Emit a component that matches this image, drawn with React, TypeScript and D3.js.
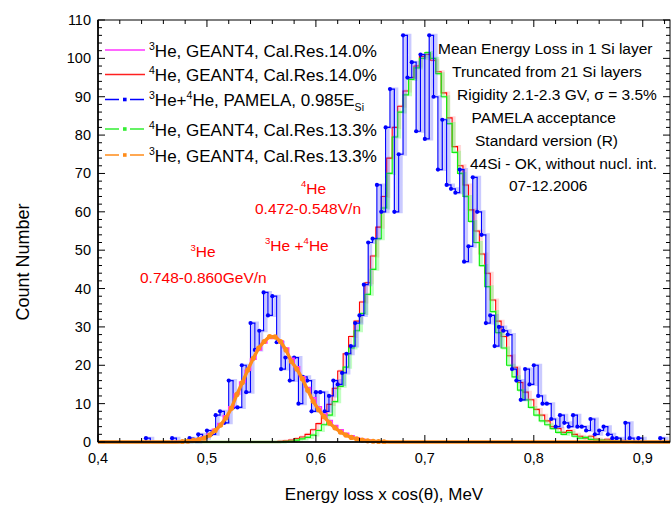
import React, { useEffect, useRef } from "react";
import * as d3 from "d3";

// ---------- axes ----------
const X_MIN = 0.4;
const X_MAX = 0.925;
const Y_MIN = 0;
const Y_MAX = 110;
const xMajorTicks = [0.4, 0.5, 0.6, 0.7, 0.8, 0.9];
const xTickLabels = ["0,4", "0,5", "0,6", "0,7", "0,8", "0,9"];
const yMajorTicks = [0, 10, 20, 30, 40, 50, 60, 70, 80, 90, 100, 110];
const xTitle = "Energy loss x cos(\u03b8), MeV";
const yTitle = "Count Number";

// ---------- series (histograms: start edge, bin width, counts) ----------
const he3Res140Start = 0.47;
const he3Res140Bin = 0.005;
const he3Res140 = [0.1, 0.2, 0.3, 0.5, 0.8, 1.3, 2.1, 3.3, 4.8, 6.8, 9.2, 12.5, 15.6, 18.7, 21.6, 24.0, 25.8, 27.0, 27.2, 26.3, 24.5, 21.8, 19.6, 17.0, 14.2, 11.5, 9.2, 7.3, 5.6, 4.3, 3.2, 2.3, 1.6, 1.1, 0.7, 0.5, 0.3, 0.2, 0.1];

const he4Res140Start = 0.565;
const he4Res140Bin = 0.005;
const he4Res140 = [0.2, 0.3, 0.5, 0.9, 1.3, 2.0, 3.2, 4.8, 7.0, 9.8, 14.0, 18.5, 23.0, 27.5, 31.5, 36.5, 41.5, 48.5, 56.0, 64.0, 74.0, 82.0, 87.5, 91.5, 95.0, 98.0, 100.5, 101.0, 99.5, 96.5, 91.0, 84.5, 77.0, 72.0, 67.0, 60.5, 55.0, 49.0, 44.0, 37.0, 31.5, 27.5, 22.5, 19.5, 15.5, 13.0, 11.0, 8.5, 7.0, 5.5, 4.0, 3.5, 2.5, 3.0, 2.0, 1.5, 1.0, 1.5, 0.8, 0.5, 0.7, 0.3, 0.2, 0.3, 0.1, 0.1, 0.05];

const pamelaStart = 0.44;
const pamelaBin = 0.004;
const pamela = [
  0, 1, 0, 0, 0, 0, 0, 1, 0, 0,
  0, 1, 0, 2, 1, 3, 2, 7, 8, 5,
  16, 9, 9, 20, 13, 31, 24, 29, 39, 33,
  38, 26, 19, 22, 16, 22, 10, 17, 16, 8,
  13, 13, 8, 12, 16, 15, 18, 23, 25, 31,
  33, 41, 52, 53, 67, 60, 82, 92, 60, 75,
  106, 95, 99, 81, 101, 79, 106, 90, 71, 84,
  67, 66, 65, 71, 47, 51, 69, 60, 54, 31,
  33, 25, 30, 29, 28, 19, 16, 11, 19, 15,
  20, 12, 10, 10, 6, 4, 7, 5, 4, 7,
  4, 4, 3, 6, 2, 3, 4, 2, 1, 1,
  0, 5, 1, 0, 1, 0, 0, 0, 0, 1, 0,
];

const he4Res133Start = 0.57;
const he4Res133Bin = 0.005;
const he4Res133 = [0.1, 0.2, 0.5, 0.8, 1.2, 1.8, 3.0, 4.5, 7.0, 10.5, 14.5, 19.5, 24.5, 29.0, 33.5, 38.5, 45.0, 53.0, 61.0, 70.0, 79.5, 86.0, 90.5, 94.5, 97.5, 100.0, 101.5, 100.0, 96.0, 90.0, 83.0, 75.5, 70.0, 64.0, 57.5, 52.0, 46.0, 40.5, 34.0, 28.5, 24.5, 20.0, 17.0, 13.5, 11.0, 9.0, 7.0, 5.5, 4.5, 3.5, 2.5, 2.0, 2.5, 1.5, 1.0, 1.2, 0.7, 0.5, 0.4, 0.3, 0.2, 0.2, 0.1, 0.1];

const he3Res133Start = 0.475;
const he3Res133Bin = 0.005;
const he3Res133 = [0.1, 0.2, 0.4, 0.6, 1.0, 1.8, 3.0, 4.4, 6.3, 8.8, 12.4, 15.5, 18.8, 21.8, 24.5, 26.2, 27.5, 27.4, 26.2, 24.0, 21.0, 19.0, 16.5, 13.5, 10.6, 8.4, 6.6, 4.9, 3.7, 2.6, 1.8, 1.2, 0.8, 0.5, 0.3, 0.2, 0.1, 0.05];

// ---------- legend ----------
type Seg = { t: string; k: "n" | "sup" | "sub" };
const legendLabels: Seg[][] = [
  [{ t: "3", k: "sup" }, { t: "He, GEANT4, Cal.Res.14.0%", k: "n" }],
  [{ t: "4", k: "sup" }, { t: "He, GEANT4, Cal.Res.14.0%", k: "n" }],
  [{ t: "3", k: "sup" }, { t: "He+", k: "n" }, { t: "4", k: "sup" }, { t: "He, PAMELA, 0.985E", k: "n" }, { t: "Si", k: "sub" }],
  [{ t: "4", k: "sup" }, { t: "He, GEANT4, Cal.Res.13.3%", k: "n" }],
  [{ t: "3", k: "sup" }, { t: "He, GEANT4, Cal.Res.13.3%", k: "n" }],
];

const infoLines = [
  "Mean Energy Loss in 1 Si layer",
  "Truncated from 21 Si layers",
  "Rigidity 2.1-2.3 GV, \u03c3 = 3.5%",
  "PAMELA acceptance",
  "Standard version (R)",
  "44Si - OK, without nucl. int.",
  "07-12.2006",
];

const annotations: Seg[][] = [
  [{ t: "4", k: "sup" }, { t: "He", k: "n" }],
  [{ t: "0.472-0.548V/n", k: "n" }],
  [{ t: "3", k: "sup" }, { t: "He +", k: "n" }, { t: "4", k: "sup" }, { t: "He", k: "n" }],
  [{ t: "3", k: "sup" }, { t: "He", k: "n" }],
  [{ t: "0.748-0.860GeV/n", k: "n" }],
];

const FONT = "'Liberation Sans', Arial, Helvetica, sans-serif";

export default function App() {
  const ref = useRef<SVGSVGElement>(null);

  useEffect(() => {
    const svg = d3.select(ref.current);
    svg.selectAll("*").remove();

    const L = 98, R = 670, T = 20, B = 442;
    const x = d3.scaleLinear().domain([X_MIN, X_MAX]).range([L, R]);
    const y = d3.scaleLinear().domain([Y_MIN, Y_MAX]).range([B, T]);

    svg.append("rect").attr("width", 671).attr("height", 505).attr("fill", "#fff");

    const defs = svg.append("defs");
    defs.append("clipPath").attr("id", "plotclip")
      .append("rect").attr("x", L).attr("y", T - 2).attr("width", R - L).attr("height", B - T + 4);

    const stepPts = (start: number, bin: number, vals: number[]): [number, number][] => {
      const pts: [number, number][] = [[X_MIN, 0]];
      vals.forEach((v, i) => pts.push([start + i * bin, v]));
      pts.push([start + vals.length * bin, 0]);
      pts.push([X_MAX, 0]);
      return pts;
    };
    const line = d3.line<[number, number]>()
      .x(d => x(d[0]))
      .y(d => y(d[1]))
      .curve(d3.curveStepAfter);
    const smooth = d3.line<[number, number]>()
      .x(d => x(d[0]))
      .y(d => y(d[1]))
      .curve(d3.curveLinear);

    const g = svg.append("g").attr("clip-path", "url(#plotclip)");

    // red 4He 14.0%
    g.append("path").attr("d", line(stepPts(he4Res140Start, he4Res140Bin, he4Res140)))
      .attr("fill", "none").attr("stroke", "#ff8080").attr("stroke-width", 3).attr("opacity", 0.3)
      .attr("transform", "translate(2,0)");
    g.append("path").attr("d", line(stepPts(he4Res140Start, he4Res140Bin, he4Res140)))
      .attr("fill", "none").attr("stroke", "#ff0000").attr("stroke-width", 1.1);

    // green 4He 13.3%
    g.append("path").attr("d", line(stepPts(he4Res133Start, he4Res133Bin, he4Res133)))
      .attr("fill", "none").attr("stroke", "#66ff66").attr("stroke-width", 3).attr("opacity", 0.4)
      .attr("transform", "translate(2,0)");
    g.append("path").attr("d", line(stepPts(he4Res133Start, he4Res133Bin, he4Res133)))
      .attr("fill", "none").attr("stroke", "#11ee11").attr("stroke-width", 1.2);

    // blue PAMELA
    const pamPts = stepPts(pamelaStart, pamelaBin, pamela);
    g.append("path").attr("d", line(pamPts))
      .attr("fill", "none").attr("stroke", "#5a5aff").attr("stroke-width", 3).attr("opacity", 0.32)
      .attr("transform", "translate(2.5,0)");
    g.append("path").attr("d", line(pamPts))
      .attr("fill", "none").attr("stroke", "#0000ff").attr("stroke-width", 1.2);
    g.selectAll("circle.pam").data(pamela.map((v, i) => [pamelaStart + i * pamelaBin, v] as [number, number]).filter(d => d[1] > 0))
      .enter().append("circle").attr("class", "pam")
      .attr("cx", d => x(d[0])).attr("cy", d => y(d[1])).attr("r", 2.1).attr("fill", "#0000ff");

    // magenta 3He 14.0%
    g.append("path").attr("d", line(stepPts(he3Res140Start, he3Res140Bin, he3Res140)))
      .attr("fill", "none").attr("stroke", "#ff33ff").attr("stroke-width", 1.6);

    // orange 3He 13.3%
    const oraPts: [number, number][] = [[X_MIN, 0], [he3Res133Start - he3Res133Bin / 2, 0]];
    he3Res133.forEach((v, i) => oraPts.push([he3Res133Start + (i + 0.5) * he3Res133Bin, v]));
    oraPts.push([he3Res133Start + (he3Res133.length + 0.5) * he3Res133Bin, 0]);
    oraPts.push([X_MAX, 0]);
    g.append("path").attr("d", smooth(oraPts))
      .attr("fill", "none").attr("stroke", "#ff8c1a").attr("stroke-width", 3.4).attr("stroke-linejoin", "round");
    g.selectAll("circle.ora").data(oraPts.slice(2, oraPts.length - 2))
      .enter().append("circle").attr("class", "ora")
      .attr("cx", d => x(d[0])).attr("cy", d => y(d[1])).attr("r", 2.6).attr("fill", "#ff8c1a");

    // ---------- frame & ticks ----------
    const frame = svg.append("g").attr("stroke", "#000").attr("fill", "none");
    frame.append("rect").attr("x", L).attr("y", T).attr("width", R - L).attr("height", B - T).attr("stroke-width", 1);
    frame.append("line").attr("x1", L).attr("x2", L).attr("y1", T).attr("y2", B).attr("stroke-width", 1.6);
    frame.append("line").attr("x1", L).attr("x2", R).attr("y1", B).attr("y2", B).attr("stroke-width", 1.6);

    const xMinor = d3.range(0, 27).map(i => X_MIN + i * 0.02).filter(v => v <= X_MAX + 1e-9);
    xMinor.forEach(v => {
      const major = xMajorTicks.some(m => Math.abs(m - v) < 1e-6);
      const len = major ? 7 : 4;
      frame.append("line").attr("x1", x(v)).attr("x2", x(v)).attr("y1", B).attr("y2", B - len).attr("stroke-width", 1);
      frame.append("line").attr("x1", x(v)).attr("x2", x(v)).attr("y1", T).attr("y2", T + len).attr("stroke-width", 1);
    });
    const yMinor = d3.range(0, 56).map(i => i * 2);
    yMinor.forEach(v => {
      const major = yMajorTicks.includes(v);
      const len = major ? 7 : 4;
      frame.append("line").attr("x1", L).attr("x2", L + len).attr("y1", y(v)).attr("y2", y(v)).attr("stroke-width", 1);
      frame.append("line").attr("x1", R).attr("x2", R - len).attr("y1", y(v)).attr("y2", y(v)).attr("stroke-width", 1);
    });

    // tick labels
    const txt = svg.append("g").attr("font-family", FONT).attr("fill", "#000");
    xMajorTicks.forEach((v, i) => {
      txt.append("text").attr("x", x(v)).attr("y", 463).attr("text-anchor", "middle")
        .attr("font-size", 14.5).text(xTickLabels[i]);
    });
    yMajorTicks.forEach(v => {
      txt.append("text").attr("x", 91).attr("y", y(v) + 5).attr("text-anchor", "end")
        .attr("font-size", 14.5).text(String(v));
    });
    txt.append("text").attr("x", (L + R) / 2).attr("y", 500).attr("text-anchor", "middle")
      .attr("font-size", 17).text(xTitle);
    txt.append("text").attr("transform", `translate(29,262) rotate(-90)`)
      .attr("text-anchor", "middle").attr("font-size", 18).text(yTitle);

    const writeSegs = (parent: any, segs: Seg[], px: number, py: number, fs: number, color: string) => {
      const t = parent.append("text").attr("x", px).attr("y", py).attr("font-family", FONT)
        .attr("font-size", fs).attr("fill", color);
      let shift = 0;
      segs.forEach(s => {
        const target = s.k === "sup" ? -fs * 0.42 : s.k === "sub" ? fs * 0.3 : 0;
        const size = s.k === "n" ? fs : fs * 0.62;
        t.append("tspan").attr("dy", target - shift).attr("font-size", size).text(s.t);
        shift = target;
      });
    };

    // legend
    const legendY = [50, 74.5, 99.5, 129, 155];
    const legendColor = ["#ff33ff", "#ff2020", "#0000ff", "#33ee33", "#ff8c1a"];
    const legendDash = [null, null, "14,4,3,4", "14,4,3,4", "14,4,3,4"];
    const lg = svg.append("g");
    legendLabels.forEach((segs, i) => {
      const ly = legendY[i];
      const ln = lg.append("line").attr("x1", 105).attr("x2", 145).attr("y1", ly).attr("y2", ly)
        .attr("stroke", legendColor[i]).attr("stroke-width", 1.3);
      if (legendDash[i]) {
        ln.attr("stroke-dasharray", legendDash[i]);
        lg.append("rect").attr("x", 123).attr("y", ly - 1.8).attr("width", 3.6).attr("height", 3.6)
          .attr("fill", legendColor[i]);
      }
      writeSegs(lg, segs, 149, ly + 6.7, 17, "#000");
    });

    // info block
    const infoX = [438, 452, 457, 471.5, 475, 470, 509];
    infoLines.forEach((s, i) => {
      txt.append("text").attr("x", infoX[i]).attr("y", 54 + i * 22.9).attr("font-size", 15.5).text(s);
    });

    // red annotations
    const annX = [301, 255, 265, 190.5, 140];
    const annY = [194, 214, 250.7, 257.3, 283.3];
    annotations.forEach((segs, i) => writeSegs(svg, segs, annX[i], annY[i], 15.5, "#ff0000"));
  }, []);

  return (
    <svg ref={ref} width={671} height={505}
      style={{ position: "absolute", left: 0, top: 0, display: "block" }} />
  );
}
